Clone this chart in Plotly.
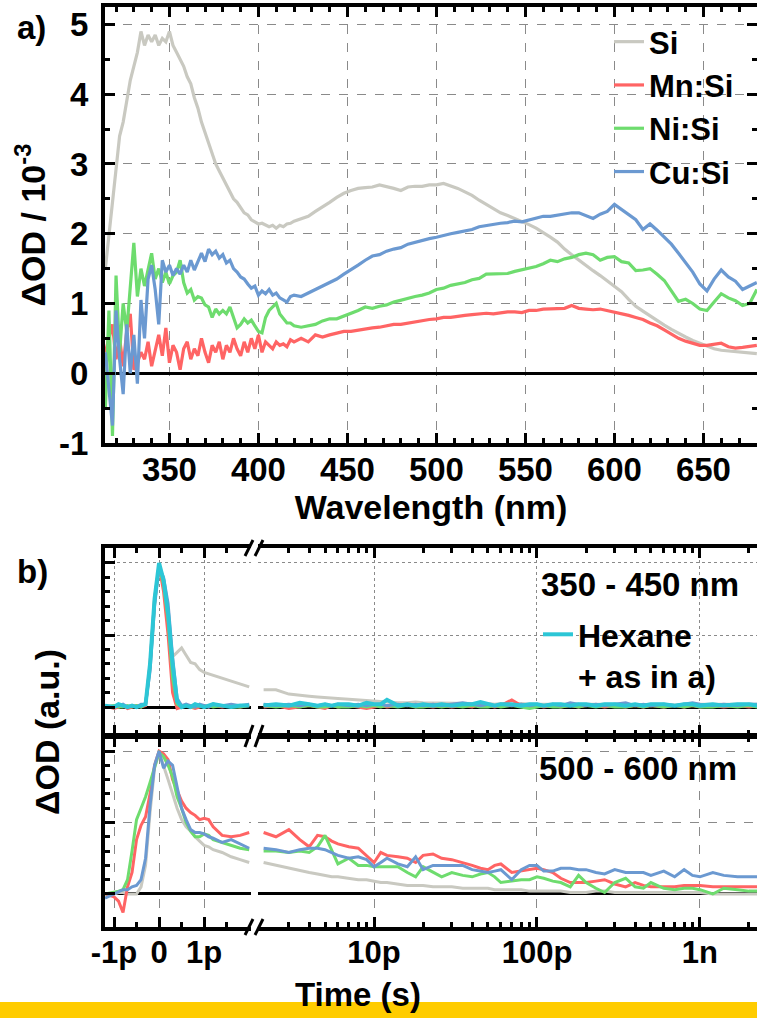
import math
import plotly.graph_objects as go

# ---------------- Panel a: transient spectra ----------------
wavelength_nm = [314, 316, 318, 320, 322, 324, 326, 328, 330, 332,
                 334, 336, 338, 340, 342, 344, 346, 348, 350, 352,
                 354, 356, 358, 360, 362, 364, 366, 368, 370, 372,
                 374, 376, 378, 380, 382, 384, 386, 388, 390, 392,
                 394, 396, 398, 400, 402, 404, 406, 408, 410, 412,
                 414, 416, 418, 420,
                 424, 428, 432, 436, 440, 444, 448, 452, 456, 460,
                 464, 468, 472, 476, 480, 484, 488, 492, 496, 500,
                 504, 508, 512, 516, 520, 524, 528, 532, 536, 540,
                 544, 548, 552, 556, 560, 564, 568, 572, 576, 580,
                 584, 588, 592, 596, 600, 604, 608, 612, 616, 620,
                 624, 628, 632, 636, 640, 644, 648, 652, 656, 660,
                 664, 668, 672, 676, 680]

si_spec = [1.5, 2.0, 2.5, 2.9, 3.4, 3.6, 3.9, 4.2, 4.4, 4.6,
           4.9, 4.7, 4.85, 4.75, 4.85, 4.7, 4.8, 4.75, 4.9, 4.7,
           4.6, 4.5, 4.4, 4.25, 4.15, 3.95, 3.8, 3.6, 3.45, 3.3,
           3.15, 3.0, 2.9, 2.8, 2.7, 2.6, 2.5, 2.45, 2.38, 2.3,
           2.27, 2.2, 2.17, 2.14, 2.15, 2.12, 2.1, 2.12, 2.08, 2.12,
           2.1, 2.14, 2.15, 2.18,
           2.22, 2.25, 2.32, 2.38, 2.45, 2.52, 2.58, 2.62, 2.65, 2.66,
           2.67, 2.7, 2.68, 2.65, 2.62, 2.67, 2.68, 2.68, 2.7, 2.7,
           2.72, 2.69, 2.65, 2.6, 2.55, 2.48, 2.42, 2.35, 2.3, 2.26,
           2.22, 2.17, 2.13, 2.08, 2.02, 1.95, 1.88, 1.78, 1.7, 1.62,
           1.55, 1.47, 1.4, 1.32, 1.24, 1.17, 1.06, 0.96, 0.89, 0.82,
           0.75, 0.69, 0.63, 0.57, 0.52, 0.47, 0.43, 0.39, 0.35, 0.33,
           0.32, 0.32, 0.3, 0.29, 0.28]

mn_spec = [0.3, 0.5, 0.7, 0.2, 0.5, 0.1, 0.6, 0.85, 0.05, 0.15,
           0.3, 0.2, 0.45, 0.1, 0.35, 0.55, 0.25, 0.65, 0.15, 0.4,
           0.3, 0.05, 0.35, 0.45, 0.2, 0.35, 0.25, 0.5, 0.3, 0.15,
           0.4, 0.3, 0.45, 0.2, 0.4, 0.3, 0.5, 0.35, 0.25, 0.45,
           0.3, 0.5, 0.35, 0.55, 0.3, 0.45, 0.4, 0.35, 0.45, 0.4,
           0.42, 0.38, 0.48, 0.45,
           0.5, 0.45, 0.55, 0.52, 0.55, 0.58, 0.6, 0.6, 0.62, 0.63,
           0.65, 0.66, 0.68, 0.7, 0.7, 0.72, 0.74, 0.75, 0.77, 0.78,
           0.8, 0.8, 0.82, 0.83, 0.84, 0.85, 0.86, 0.85, 0.87, 0.88,
           0.88, 0.87, 0.9, 0.9, 0.92, 0.92, 0.93, 0.93, 0.97, 0.93,
           0.92, 0.91, 0.92, 0.9, 0.87, 0.85, 0.83, 0.8, 0.77, 0.72,
           0.68, 0.62, 0.56, 0.5, 0.46, 0.43, 0.4, 0.4, 0.41, 0.43,
           0.38, 0.36, 0.37, 0.38, 0.4]

ni_spec = [-0.5, 0.9, -0.9, 1.4, 0.3, 1.0, 0.6, 1.2, 1.87, 1.1,
           1.5, 1.25, 1.5, 1.72, 1.35, 1.5, 1.3, 1.45, 1.28, 1.4,
           1.45, 1.62, 1.3, 1.15, 1.2, 1.05, 1.1, 1.08, 0.98, 0.95,
           0.8, 0.92, 0.85, 0.9, 0.85, 0.95, 0.8, 0.65, 0.7, 0.78,
           0.72, 0.76, 0.68, 0.6, 0.58, 0.8, 0.9, 0.95, 1.0, 0.85,
           0.78, 0.72, 0.72, 0.68,
           0.66, 0.68, 0.7, 0.75, 0.78, 0.78, 0.82, 0.85, 0.9, 0.95,
           0.93, 0.96, 0.98, 1.02, 1.05, 1.08, 1.1, 1.12, 1.15, 1.2,
           1.22, 1.26, 1.28, 1.3, 1.34, 1.36, 1.42, 1.42, 1.43, 1.43,
           1.46, 1.48, 1.5, 1.53, 1.57, 1.62, 1.6, 1.64, 1.66, 1.7,
           1.72, 1.7, 1.62, 1.66, 1.67, 1.6, 1.58, 1.47, 1.48, 1.5,
           1.42, 1.33, 1.18, 1.03, 1.06, 1.0, 0.92, 0.9, 1.02, 1.14,
           1.08, 1.04, 0.97, 1.0, 1.2]

cu_spec = [0.3, -0.2, -0.75, 0.9, 0.2, -0.3, 0.7, 0.0, 0.55, -0.15,
           1.05, 0.5, 1.35, 1.55, 1.2, 0.7, 1.62, 1.45, 1.55, 1.4,
           1.5, 1.42, 1.55, 1.45, 1.62, 1.48, 1.6, 1.72, 1.6, 1.78,
           1.7, 1.75, 1.65, 1.7, 1.58, 1.62, 1.5, 1.45, 1.38, 1.35,
           1.28, 1.22, 1.25, 1.12, 1.18, 1.14, 1.2, 1.12, 1.15, 1.08,
           1.05, 1.02, 1.1, 1.12,
           1.1, 1.15, 1.2, 1.25, 1.3, 1.35, 1.42, 1.48, 1.55, 1.62,
           1.68, 1.7, 1.75, 1.78, 1.8, 1.85, 1.88, 1.9, 1.93, 1.95,
           1.98, 2.0, 2.02, 2.04, 2.06, 2.1, 2.12, 2.13, 2.15, 2.16,
           2.18, 2.17, 2.2, 2.22, 2.25, 2.25, 2.27, 2.28, 2.3, 2.3,
           2.26, 2.22, 2.28, 2.32, 2.42, 2.35, 2.28, 2.2, 2.06, 2.14,
           2.05, 1.95, 1.85, 1.72, 1.58, 1.45, 1.28, 1.18, 1.35, 1.48,
           1.38, 1.32, 1.2, 1.25, 1.3]

# ---------------- Panel b: kinetics (time in ps) ----------------
t_lin_ps = [-1.2, -1.0, -0.9, -0.8, -0.7, -0.6, -0.5, -0.4, -0.3, -0.2,
            -0.1, 0.0, 0.1, 0.2, 0.3, 0.4, 0.5, 0.6, 0.7, 0.8,
            0.9, 1.0, 1.1, 1.2, 1.4, 1.6, 1.8, 2.0]
t_log_ps = [2.1, 2.5, 3, 3.5, 4, 4.5, 5, 5.5, 6,
            7, 8, 9, 10, 11, 12,
            14, 16, 18, 20,
            23, 26, 30, 35, 40, 45, 50, 55, 60,
            70, 80, 90, 100, 110, 125, 140, 160, 180, 200,
            230, 260, 300, 350, 400, 450, 500,
            600, 700, 800, 900, 1000,
            1200, 1400, 1700, 2000, 2250]

# 350 - 450 nm
si_top_lin = [0.0, 0.01, 0.0, 0.01, 0.0, 0.01, 0.0, 0.01, 0.02, 0.3,
              0.75, 0.98, 0.85, 0.55, 0.35, 0.38, 0.41, 0.36, 0.31, 0.3,
              0.26, 0.24, 0.23, 0.22, 0.2, 0.18, 0.16, 0.14]
mn_top_lin = [0.01, -0.01, 0.0, 0.01, -0.01, 0.0, 0.01, 0.0, 0.01, 0.3,
              0.75, 0.98, 0.8, 0.5, 0.1, -0.01, 0.0, 0.01, 0.0, -0.01,
              0.0, 0.01, 0.0, 0.01, 0.0, 0.01, 0.0, 0.01]
ni_top_lin = [0.0, 0.01, 0.0, 0.0, 0.01, 0.0, 0.01, 0.0, 0.02, 0.28,
              0.72, 0.99, 0.85, 0.6, 0.2, 0.02, 0.0, 0.01, 0.0, 0.0,
              0.01, 0.0, 0.01, 0.0, 0.01, 0.0, 0.0, 0.01]
cu_top_lin = [0.01, 0.0, 0.01, 0.02, 0.0, 0.01, 0.0, 0.02, 0.02, 0.25,
              0.7, 0.97, 0.9, 0.72, 0.35, 0.06, 0.01, 0.02, 0.01, 0.0,
              0.02, 0.01, 0.0, 0.02, 0.01, 0.02, 0.01, 0.02]
hx_top_lin = [0.01, 0.0, 0.02, 0.01, 0.0, 0.01, 0.0, 0.01, 0.02, 0.3,
              0.75, 1.0, 0.88, 0.65, 0.3, 0.04, 0.0, 0.01, 0.0, 0.02,
              0.01, 0.0, 0.01, 0.02, 0.01, 0.0, 0.01, 0.01]

si_top_log = [0.12, 0.12, 0.09, 0.08, 0.075, 0.07, 0.065, 0.06, 0.06,
              0.055, 0.05, 0.045, 0.04, 0.035, 0.035,
              0.03, 0.03, 0.035, 0.03,
              0.03, 0.025, 0.03, 0.025, 0.025, 0.02, 0.025, 0.02, 0.025,
              0.02, 0.025, 0.02, 0.02, 0.025, 0.02, 0.02, 0.025, 0.02, 0.02,
              0.02, 0.025, 0.02, 0.02, 0.015, 0.02, 0.02,
              0.02, 0.015, 0.02, 0.02, 0.015,
              0.02, 0.015, 0.02, 0.015, 0.02]
mn_top_log = [0.0, 0.01, -0.01, 0.0, 0.01, 0.0, -0.01, 0.01, 0.0,
              0.01, 0.0, -0.01, 0.0, 0.01, 0.0,
              0.01, 0.02, 0.0, 0.01,
              0.0, 0.01, 0.0, 0.01, 0.0, 0.02, 0.01, 0.0, 0.01,
              0.05, 0.01, 0.0, 0.01, 0.0, 0.01, 0.0, 0.01, 0.0, 0.01,
              0.01, 0.0, 0.01, 0.0, 0.01, 0.0, 0.01,
              0.0, 0.01, 0.0, 0.01, 0.0,
              0.01, 0.0, 0.01, 0.0, 0.01]
ni_top_log = [0.01, 0.0, 0.01, 0.0, 0.01, 0.0, 0.0, 0.01, 0.0,
              0.0, 0.01, 0.0, 0.01, 0.0, 0.01,
              0.0, 0.01, 0.0, 0.0,
              0.01, 0.0, 0.01, 0.0, 0.01, 0.0, 0.0, 0.01, 0.0,
              0.01, 0.0, -0.01, 0.0, 0.01, 0.0, 0.0, 0.01, 0.0, 0.01,
              0.0, 0.01, 0.0, 0.0, 0.01, 0.0, 0.01,
              0.0, 0.01, 0.0, 0.01, 0.0,
              0.0, 0.01, 0.0, 0.01, 0.0]
cu_top_log = [0.02, 0.01, 0.02, 0.01, 0.02, 0.01, 0.02, 0.01, 0.02,
              0.01, 0.02, 0.01, 0.02, 0.02, 0.01,
              0.02, 0.01, 0.02, 0.01,
              0.02, 0.01, 0.02, 0.03, 0.02, 0.01, 0.02, 0.01, 0.02,
              0.01, 0.02, 0.01, 0.02, 0.01, 0.02, 0.01, 0.03, 0.02, 0.01,
              0.02, 0.01, 0.02, 0.03, 0.01, 0.02, 0.01,
              0.02, 0.01, 0.02, 0.03, 0.02,
              0.01, 0.02, 0.01, 0.02, 0.02]
hx_top_log = [0.01, 0.02, 0.01, 0.03, 0.02, 0.01, 0.02, 0.01, 0.02,
              0.02, 0.01, 0.03, 0.02, 0.02, 0.05,
              0.01, 0.02, 0.01, 0.02,
              0.01, 0.02, 0.01, 0.02, 0.02, 0.035, 0.02, 0.01, 0.02,
              0.02, 0.01, 0.02, 0.02, 0.01, 0.02, 0.02, 0.01, 0.02, 0.02,
              0.01, 0.02, 0.02, 0.01, 0.02, 0.01, 0.02,
              0.02, 0.01, 0.02, 0.02, 0.01,
              0.02, 0.01, 0.02, 0.02, 0.01]

# 500 - 600 nm
si_bot_lin = [0.0, 0.0, 0.01, 0.01, 0.0, 0.0, 0.0, 0.05, 0.2, 0.57,
              0.88, 0.99, 0.9, 0.8, 0.7, 0.6, 0.52, 0.47, 0.44, 0.4,
              0.37, 0.34, 0.33, 0.31, 0.29, 0.26, 0.24, 0.22]
mn_bot_lin = [0.0, -0.02, -0.05, -0.13, 0.05, 0.15, 0.38, 0.48, 0.54, 0.7,
              0.9, 1.0, 0.98, 0.94, 0.8, 0.72, 0.65, 0.6, 0.57, 0.55,
              0.52, 0.53, 0.52, 0.47, 0.41, 0.4, 0.41, 0.43]
ni_bot_lin = [0.0, 0.01, 0.02, 0.03, 0.1, 0.3, 0.52, 0.6, 0.68, 0.78,
              0.88, 0.99, 0.96, 0.9, 0.82, 0.68, 0.6, 0.5, 0.44, 0.4,
              0.4, 0.42, 0.41, 0.38, 0.36, 0.34, 0.32, 0.31]
cu_bot_lin = [-0.03, 0.0, 0.02, 0.03, 0.03, 0.05, 0.06, 0.1, 0.25, 0.62,
              0.9, 1.0, 0.88, 0.93, 0.9, 0.75, 0.6, 0.52, 0.45, 0.43,
              0.43, 0.42, 0.4, 0.39, 0.36, 0.38, 0.35, 0.32]

si_bot_log = [0.22, 0.2, 0.18, 0.16, 0.15, 0.14, 0.13, 0.12, 0.12,
              0.11, 0.1, 0.1, 0.09, 0.08, 0.08,
              0.07, 0.06, 0.06, 0.06,
              0.05, 0.05, 0.05, 0.04, 0.04, 0.04, 0.04, 0.03, 0.03,
              0.03, 0.03, 0.02, 0.02, 0.02, 0.02, 0.02, 0.01, 0.01, 0.01,
              0.02, 0.02, 0.01, 0.01, 0.01, 0.01, 0.01,
              0.01, 0.01, 0.01, 0.01, 0.01,
              0.0, 0.0, 0.0, 0.0, 0.0]
mn_bot_log = [0.43, 0.40, 0.45, 0.38, 0.33, 0.41, 0.40, 0.37, 0.35,
              0.33, 0.32, 0.27, 0.22, 0.29, 0.27,
              0.26, 0.25, 0.22, 0.27,
              0.28, 0.25, 0.24, 0.22, 0.2, 0.18, 0.17, 0.2, 0.21,
              0.15, 0.16, 0.17, 0.18, 0.17, 0.15, 0.11, 0.08, 0.08, 0.08,
              0.09, 0.1, 0.07, 0.05, 0.08, 0.06, 0.05,
              0.05, 0.05, 0.06, 0.06, 0.06,
              0.05, 0.05, 0.05, 0.05, 0.05]
ni_bot_log = [0.3, 0.3, 0.29, 0.3, 0.29, 0.33, 0.41, 0.3, 0.21,
              0.25, 0.2, 0.2, 0.19, 0.19, 0.19,
              0.19, 0.15, 0.12, 0.19,
              0.15, 0.12, 0.15, 0.13, 0.12, 0.14, 0.15, 0.12, 0.08,
              0.09, 0.1, 0.1, 0.12, 0.11, 0.09, 0.08, 0.05, 0.13, 0.08,
              0.04, 0.01, 0.08, 0.11, 0.05, 0.04, 0.08,
              0.04, 0.03, 0.04, 0.04, 0.03,
              0.0, 0.04, 0.03, 0.02, 0.02]
cu_bot_log = [0.32, 0.31, 0.29, 0.31, 0.32, 0.32, 0.31, 0.29, 0.27,
              0.25, 0.26, 0.24, 0.19, 0.22, 0.25,
              0.21, 0.19, 0.26, 0.17,
              0.2, 0.2, 0.2, 0.2, 0.17, 0.16, 0.15, 0.16, 0.17,
              0.1, 0.17, 0.2, 0.2, 0.16, 0.16, 0.18, 0.18, 0.17, 0.17,
              0.15, 0.14, 0.17, 0.15, 0.15, 0.15, 0.13,
              0.16, 0.12, 0.17, 0.13, 0.12,
              0.15, 0.13, 0.12, 0.12, 0.12]

series_names = ["Si", "Mn:Si", "Ni:Si", "Cu:Si"]
series_colors = ["#C9C9C1", "#FF6464", "#6EDC6E", "#6B99D1"]
hexane_name = "Hexane<br>+ as in a)"
hexane_color = "#2CC6D6"

lin_ticks = [-1, 0, 1]
lin_ticktext = ["-1p", "0", "1p"]
log_ticks = [10, 100, 1000]
log_ticktext = ["10p", "100p", "1n"]

# ---------------- layout geometry (pixels) ----------------
W, H = 757, 1018
FONT = "Liberation Sans, Arial, sans-serif"


def fx(px):
    return px / W


def fy(py):
    return 1 - py / H


fig = go.Figure()

spec_data = [si_spec, mn_spec, ni_spec, cu_spec]
for name, col, vals in zip(series_names, series_colors, spec_data):
    fig.add_trace(go.Scatter(x=wavelength_nm, y=vals, name=name, mode="lines",
                             line=dict(color=col, width=3.2),
                             xaxis="x", yaxis="y", legend="legend"))

top_lin = [si_top_lin, mn_top_lin, ni_top_lin, cu_top_lin]
top_log = [si_top_log, mn_top_log, ni_top_log, cu_top_log]
bot_lin = [si_bot_lin, mn_bot_lin, ni_bot_lin, cu_bot_lin]
bot_log = [si_bot_log, mn_bot_log, ni_bot_log, cu_bot_log]

for name, col, a, b in zip(series_names, series_colors, top_lin, top_log):
    fig.add_trace(go.Scatter(x=t_lin_ps, y=a, mode="lines", line=dict(color=col, width=3),
                             xaxis="x2", yaxis="y2", showlegend=False, name=name))
    fig.add_trace(go.Scatter(x=t_log_ps, y=b, mode="lines", line=dict(color=col, width=3),
                             xaxis="x3", yaxis="y2", showlegend=False, name=name))
fig.add_trace(go.Scatter(x=t_lin_ps, y=hx_top_lin, mode="lines", name=hexane_name,
                         line=dict(color=hexane_color, width=4),
                         xaxis="x2", yaxis="y2", legend="legend2", showlegend=True))
fig.add_trace(go.Scatter(x=t_log_ps, y=hx_top_log, mode="lines", name=hexane_name,
                         line=dict(color=hexane_color, width=4),
                         xaxis="x3", yaxis="y2", showlegend=False))

for name, col, a, b in zip(series_names, series_colors, bot_lin, bot_log):
    fig.add_trace(go.Scatter(x=t_lin_ps, y=a, mode="lines", line=dict(color=col, width=3),
                             xaxis="x4", yaxis="y4", showlegend=False, name=name))
    fig.add_trace(go.Scatter(x=t_log_ps, y=b, mode="lines", line=dict(color=col, width=3),
                             xaxis="x5", yaxis="y4", showlegend=False, name=name))

AX = dict(showline=True, linecolor="black", linewidth=4, ticks="inside",
          ticklen=10, tickwidth=3, tickcolor="black", zeroline=False,
          gridcolor="#8a8a8a", gridwidth=1, automargin=False)
BOLD = dict(family=FONT, color="black", weight="bold")

# panel a axes
xa_minor = [v for v in range(320, 681, 10) if v % 50 != 0]
ya_minor = [v + 0.5 for v in range(-1, 5)]
fig.update_layout(
    xaxis=dict(AX, domain=[fx(105), 1.0], anchor="y", range=[313.8, 680.1],
               tickmode="array", tickvals=[350, 400, 450, 500, 550, 600, 650],
               ticktext=["350", "400", "450", "500", "550", "600", "650"],
               mirror="ticks", showgrid=True, griddash="dash",
               minor=dict(tickvals=xa_minor, ticks="inside", ticklen=5, tickwidth=3,
                          tickcolor="black", showgrid=False),
               tickfont=dict(BOLD, size=33), ticklabelstandoff=-6,
               title=dict(text="Wavelength (nm)", font=dict(BOLD, size=34), standoff=5)),
    yaxis=dict(AX, domain=[fy(443), fy(7)], anchor="x", range=[-1, 5.25],
               tickmode="array", tickvals=[-1, 0, 1, 2, 3, 4, 5],
               ticktext=["-1", "0", "1", "2", "3", "4", "5"],
               mirror="ticks", showgrid=True, griddash="dash",
               zeroline=True, zerolinecolor="black", zerolinewidth=3,
               minor=dict(tickvals=ya_minor, ticks="inside", ticklen=5, tickwidth=3,
                          tickcolor="black", showgrid=False),
               tickfont=dict(BOLD, size=33), ticklabelstandoff=6,
               title=dict(text="ΔOD / 10<sup>-3</sup>", font=dict(BOLD, size=34), standoff=4)),
)

# panel b axes
lin_dom = [fx(105), fx(251)]
log_dom = [fx(258), 1.0]
lin_range = [-1.2, 2.04]
log_range = [math.log10(1.94), math.log10(2240)]
lin_minor = [-0.5, 0.5, 1.5]
log_minor = [3, 4, 5, 6, 7, 8, 9, 20, 30, 40, 50, 60, 70, 80, 90,
             200, 300, 400, 500, 600, 700, 800, 900, 2000]
yb_minor = [0.1, 0.2, 0.3, 0.4, 0.6, 0.7, 0.8, 0.9]
MINOR = dict(ticks="inside", ticklen=5, tickwidth=3, tickcolor="black", showgrid=False)


def lin_axis(anchor, labels, dash):
    return dict(AX, domain=lin_dom, anchor=anchor, range=lin_range, tickmode="array",
                tickvals=lin_ticks, ticktext=lin_ticktext, showticklabels=labels,
                mirror="ticks", showgrid=True, griddash=dash,
                minor=dict(MINOR, tickvals=lin_minor),
                tickfont=dict(BOLD, size=31), ticklabelstandoff=-5)


def log_axis(anchor, labels, dash):
    return dict(AX, domain=log_dom, anchor=anchor, type="log", range=log_range,
                tickmode="array", tickvals=log_ticks, ticktext=log_ticktext,
                showticklabels=labels, mirror="ticks", showgrid=True, griddash=dash,
                minor=dict(MINOR, tickvals=log_minor),
                tickfont=dict(BOLD, size=31), ticklabelstandoff=-5)


def y_axis(dom, rng, anchor, dash):
    return dict(AX, domain=dom, anchor=anchor, range=rng, tickmode="array",
                tickvals=[0, 0.5, 1.0], showticklabels=False, showgrid=True, griddash=dash,
                zeroline=True, zerolinecolor="black", zerolinewidth=3,
                minor=dict(MINOR, tickvals=yb_minor))


def y_right(over, rng, anchor):
    return dict(AX, overlaying=over, anchor=anchor, side="right", range=rng,
                tickmode="array", tickvals=[0, 0.5, 1.0], showticklabels=False,
                showgrid=False, minor=dict(MINOR, tickvals=yb_minor))


top_dom = [fy(735), fy(548)]
bot_dom = [fy(927), fy(737)]
top_rng = [-0.194, 1.104]
bot_rng = [-0.231, 1.098]

fig.update_layout(
    xaxis2=lin_axis("y2", False, "dot"),
    xaxis3=log_axis("y2", False, "dot"),
    yaxis2=y_axis(top_dom, top_rng, "x2", "dot"),
    yaxis3=y_right("y2", top_rng, "x3"),
    xaxis4=lin_axis("y4", True, "dash"),
    xaxis5=log_axis("y4", True, "dash"),
    yaxis4=y_axis(bot_dom, bot_rng, "x4", "dash"),
    yaxis5=y_right("y4", bot_rng, "x5"),
)

# axis-break marks "//" and the yellow footer strip
shapes = [dict(type="rect", xref="paper", yref="paper", x0=0, x1=1, y0=0, y1=fy(1002),
               fillcolor="#FFCC00", line=dict(width=0), layer="below")]
for yb, half in [(548, 8), (736, 11), (927, 8)]:
    shapes.append(dict(type="rect", xref="paper", yref="paper", x0=fx(251), x1=fx(258),
                       y0=fy(yb + 3), y1=fy(yb - 3), fillcolor="white",
                       line=dict(width=0), layer="above"))
    for xc in (249, 259):
        shapes.append(dict(type="line", xref="paper", yref="paper",
                           x0=fx(xc - 4), y0=fy(yb + half), x1=fx(xc + 4), y1=fy(yb - half),
                           line=dict(color="black", width=3), layer="above"))

annotations = [
    dict(text="a)", x=fx(31), y=fy(27)),
    dict(text="b)", x=fx(32), y=fy(571)),
    dict(text="350 - 450 nm", x=fx(741), y=fy(584), xanchor="right"),
    dict(text="500 - 600 nm", x=fx(739), y=fy(768), xanchor="right"),
    dict(text="ΔOD (a.u.)", x=fx(47), y=fy(732), textangle=-90, font=dict(BOLD, size=34)),
    dict(text="Time (s)", x=fx(358), y=fy(994)),
]
for a in annotations:
    a.setdefault("xanchor", "center")
    a.setdefault("yanchor", "middle")
    a.setdefault("font", dict(BOLD, size=33))
    a.update(xref="paper", yref="paper", showarrow=False)

fig.update_layout(
    width=W, height=H, margin=dict(l=0, r=0, t=0, b=0, autoexpand=False),
    paper_bgcolor="white", plot_bgcolor="white",
    font=dict(BOLD, size=32),
    shapes=shapes, annotations=annotations,
    legend=dict(x=fx(609), y=fy(15), xanchor="left", yanchor="top",
                bgcolor="rgba(0,0,0,0)", font=dict(BOLD, size=31), itemwidth=30,
                tracegroupgap=0),
    legend2=dict(x=fx(538), y=fy(607), xanchor="left", yanchor="top", valign="top",
                 bgcolor="rgba(0,0,0,0)", font=dict(BOLD, size=32), itemwidth=30),
)

fig.write_html("out.html", config={"displayModeBar": False},
               post_script="document.body.style.margin='0';")
